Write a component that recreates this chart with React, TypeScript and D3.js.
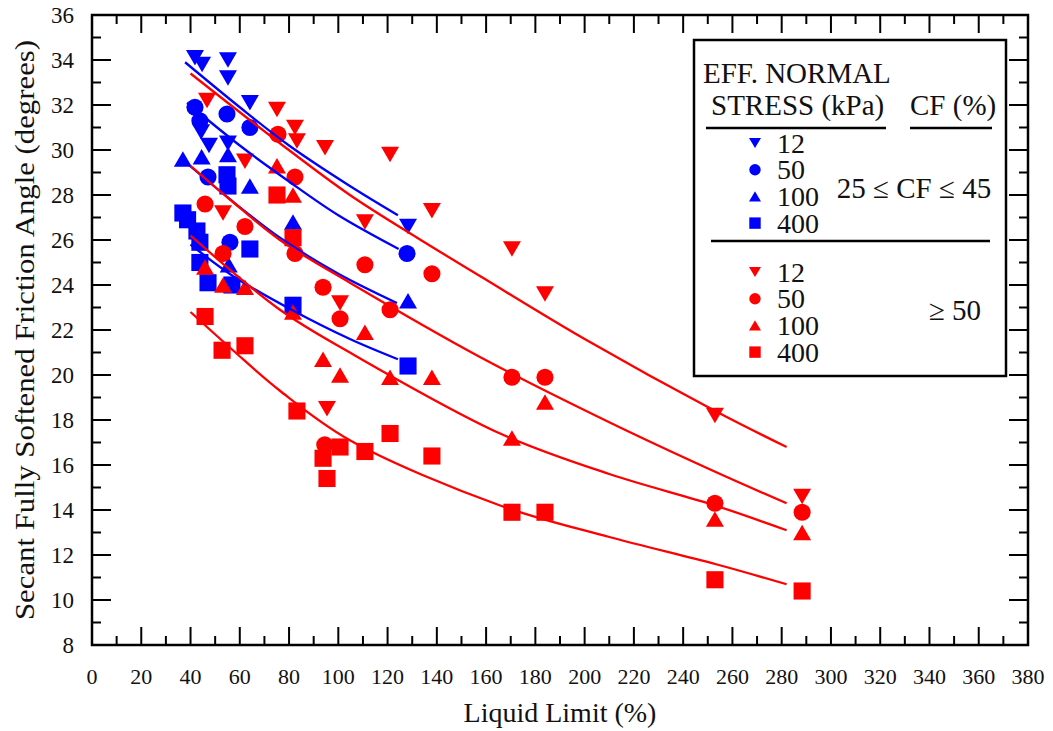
import React from "react";
import * as d3 from "d3";

// ---------- data (Liquid Limit %, friction angle deg) ----------
// CF 25-45 % (blue)
const blue12: [number, number][] = [[41.8,34.1],[44.7,33.8],[55.2,34.0],[55.2,33.2],[64.1,32.1],[44.3,30.8],[47.5,30.2],[55.2,30.3],[128.3,26.6]];
const blue50: [number, number][] = [[41.8,31.9],[43.8,31.3],[54.8,31.6],[64.1,31.0],[47.1,28.8],[56.0,25.9],[127.9,25.4]];
const blue100: [number, number][] = [[36.9,29.6],[44.5,29.7],[55.2,29.8],[64.1,28.4],[81.6,26.8],[55.5,24.9],[128.3,23.3]];
const blue400: [number, number][] = [[36.9,27.2],[38.8,26.9],[42.6,26.4],[43.8,25.9],[43.8,25.0],[47.1,24.1],[56.8,24.0],[54.8,28.9],[55.2,28.4],[64.1,25.6],[81.6,23.1],[128.3,20.4]];
// CF >= 50 % (red)
const red12: [number, number][] = [[46.7,32.2],[75.1,31.8],[82.4,31.0],[83.2,30.4],[94.6,30.1],[62.1,29.5],[53.2,27.2],[121.0,29.8],[138.0,27.3],[110.8,26.8],[100.7,23.2],[95.4,18.5],[170.5,25.6],[183.9,23.6],[252.9,18.2],[288.3,14.6]];
const red50: [number, number][] = [[75.5,30.7],[82.4,28.8],[45.9,27.6],[62.1,26.6],[53.2,25.4],[82.4,25.4],[93.8,23.9],[100.7,22.5],[110.8,24.9],[138.0,24.5],[121.0,22.9],[94.5,16.9],[170.5,19.9],[183.9,19.9],[252.9,14.3],[288.3,13.9]];
const red100: [number, number][] = [[75.1,29.3],[81.6,28.0],[45.9,24.8],[53.2,24.0],[62.1,23.9],[81.6,22.8],[110.8,21.9],[93.8,20.7],[100.7,20.0],[121.0,19.9],[138.0,19.9],[170.5,17.2],[183.9,18.8],[252.9,13.6],[288.3,13.0]];
const red400: [number, number][] = [[75.1,28.0],[81.6,26.1],[45.9,22.6],[52.8,21.1],[62.1,21.3],[83.2,18.4],[121.0,17.4],[100.7,16.8],[93.8,16.3],[95.4,15.4],[110.8,16.6],[138.0,16.4],[170.5,13.9],[183.9,13.9],[252.9,10.9],[288.3,10.4]];

// trend curves
const blueFit12: [number, number][] = [[37.8,33.9],[60,31.9],[80,30.2],[104.7,28.4],[124.2,27.1]];
const blueFit50: [number, number][] = [[38.6,32.1],[60,30.2],[80,28.6],[100,27.1],[124.5,25.6]];
const blueFit100: [number, number][] = [[38.6,29.4],[55,27.9],[76.3,26.1],[100,24.5],[123.8,23.2]];
const blueFit400: [number, number][] = [[40,25.8],[57.2,24.4],[81,22.9],[104.7,21.6],[124.2,20.7]];
const redFit12: [number, number][] = [[40,33.4],[76.3,30.3],[104.7,28.0],[132,26.1],[157.5,24.4],[200,21.6],[253,18.4],[282,16.8]];
const redFit50: [number, number][] = [[40,29.3],[56,27.8],[76.3,26.0],[104.7,24.1],[157.5,20.8],[210,17.9],[253,15.7],[282,14.3]];
const redFit100: [number, number][] = [[40,26.2],[76.3,22.9],[104.7,21.0],[165.7,17.4],[210,15.6],[253,14.2],[282,13.1]];
const redFit400: [number, number][] = [[40,22.8],[57.2,21.1],[76.3,19.3],[104.7,17.1],[165.7,14.2],[210,12.8],[253,11.6],[282,10.7]];

const stressLabels = ["12", "50", "100", "400"];
const shapes = ["down", "circle", "up", "square"];
const xTickValues = d3.range(0, 381, 10);
const yTickValues = d3.range(8, 37, 1);

const BLUE = "#0000ff";
const RED = "#ff0000";
const FONT = '"Liberation Serif", "Times New Roman", Tinos, serif';

const x = d3.scaleLinear().domain([0, 380]).range([92, 1028]);
const y = d3.scaleLinear().domain([8, 36]).range([645, 15]);

function Marker({ shape, cx, cy, s, color }: { shape: string; cx: number; cy: number; s: number; color: string }) {
  const h = s / 2;
  if (shape === "circle") return <circle cx={cx} cy={cy} r={h * 0.95} fill={color} />;
  if (shape === "square") return <rect x={cx - h * 0.95} y={cy - h * 0.95} width={s * 0.95} height={s * 0.95} fill={color} />;
  const th = s * 0.85;
  if (shape === "down")
    return <path d={`M${cx - h},${cy - th / 2}L${cx + h},${cy - th / 2}L${cx},${cy + th / 2}Z`} fill={color} />;
  return <path d={`M${cx - h},${cy + th / 2}L${cx + h},${cy + th / 2}L${cx},${cy - th / 2}Z`} fill={color} />;
}

const line = d3
  .line<[number, number]>()
  .x((d) => x(d[0]))
  .y((d) => y(d[1]))
  .curve(d3.curveCatmullRom.alpha(0.5));

const T_STYLE: React.CSSProperties = { fontFamily: FONT };

export default function App() {
  const blueSeries = [blue12, blue50, blue100, blue400];
  const redSeries = [red12, red50, red100, red400];
  const blueFits = [blueFit12, blueFit50, blueFit100, blueFit400];
  const redFits = [redFit12, redFit50, redFit100, redFit400];
  const [L, R] = x.range();
  const [B, T] = y.range();
  const rowGap = 26.7;

  return (
    <svg width={1053} height={731} style={{ position: "absolute", left: 0, top: 0, background: "#fff", fontFamily: FONT }}>
      <rect x={0} y={0} width={1053} height={731} fill="#fff" />
      {/* markers */}
      {blueSeries.map((s, i) =>
        s.map((d, j) => <Marker key={`b${i}-${j}`} shape={shapes[i]} cx={x(d[0])} cy={y(d[1])} s={18} color={BLUE} />)
      )}
      {redSeries.map((s, i) =>
        s.map((d, j) => <Marker key={`r${i}-${j}`} shape={shapes[i]} cx={x(d[0])} cy={y(d[1])} s={18} color={RED} />)
      )}
      {/* fitted curves */}
      {blueFits.map((f, i) => (
        <path key={`bf${i}`} d={line(f) || ""} fill="none" stroke={BLUE} strokeWidth={2.3} />
      ))}
      {redFits.map((f, i) => (
        <path key={`rf${i}`} d={line(f) || ""} fill="none" stroke={RED} strokeWidth={2.3} />
      ))}
      {/* ticks */}
      {xTickValues.map((v) => {
        const len = v % 20 === 0 ? 18 : 9;
        return (
          <g key={`xt${v}`} stroke="#000" strokeWidth={2}>
            <line x1={x(v)} x2={x(v)} y1={B} y2={B - len} />
            <line x1={x(v)} x2={x(v)} y1={T} y2={T + len} />
          </g>
        );
      })}
      {yTickValues.map((v) => {
        const len = v % 2 === 0 ? 19 : 9;
        return (
          <g key={`yt${v}`} stroke="#000" strokeWidth={2}>
            <line x1={L} x2={L + len} y1={y(v)} y2={y(v)} />
            <line x1={R} x2={R - len} y1={y(v)} y2={y(v)} />
          </g>
        );
      })}
      <rect x={L} y={T} width={R - L} height={B - T} fill="none" stroke="#000" strokeWidth={2.5} />
      {/* tick labels */}
      {xTickValues.filter((v) => v % 20 === 0).map((v) => (
        <text key={`xl${v}`} x={x(v)} y={684} fontSize={22} textAnchor="middle" fill="#111" style={T_STYLE}>
          {v}
        </text>
      ))}
      {yTickValues.filter((v) => v % 2 === 0).map((v) => (
        <text key={`yl${v}`} x={74} y={y(v)} dy="0.35em" fontSize={23} textAnchor="end" fill="#111" style={T_STYLE}>
          {v}
        </text>
      ))}
      {/* axis titles */}
      <text x={(L + R) / 2} y={722} fontSize={28} textAnchor="middle" fill="#111" style={T_STYLE}>
        Liquid Limit (%)
      </text>
      <text
        transform={`translate(34,${(T + B) / 2}) rotate(-90)`}
        fontSize={27}
        textAnchor="middle"
        fill="#111"
        textLength={580}
        lengthAdjust="spacingAndGlyphs"
        style={T_STYLE}
      >
        Secant Fully Softened Friction Angle (degrees)
      </text>
      {/* legend */}
      <g style={T_STYLE}>
        <rect x={694} y={40} width={312} height={336} fill="#fff" stroke="#000" strokeWidth={2.5} />
        <text x={703} y={83} fontSize={29} fill="#111" style={T_STYLE}>EFF. NORMAL</text>
        <text x={711} y={115} fontSize={29} fill="#111" style={T_STYLE}>STRESS (kPa)</text>
        <text x={910} y={115} fontSize={29} fill="#111" style={T_STYLE}>CF (%)</text>
        <line x1={706} x2={886} y1={128} y2={128} stroke="#000" strokeWidth={2.5} />
        <line x1={910} x2={992} y1={128} y2={128} stroke="#000" strokeWidth={2.5} />
        {stressLabels.map((lab, i) => (
          <Marker key={`lbm${i}`} shape={shapes[i]} cx={755} cy={143 + i * rowGap} s={12} color={BLUE} />
        ))}
        <text fontSize={28} fill="#111" style={T_STYLE}>
          {stressLabels.map((lab, i) => (
            <tspan key={`lbt${i}`} x={777} y={143 + i * rowGap + 9.5}>{lab}</tspan>
          ))}
        </text>
        <text x={914} y={188} dy="0.34em" fontSize={29} textAnchor="middle" fill="#111" style={T_STYLE}>25 ≤ CF ≤ 45</text>
        <line x1={711} x2={990} y1={241} y2={241} stroke="#000" strokeWidth={2.5} />
        {stressLabels.map((lab, i) => (
          <Marker key={`lrm${i}`} shape={shapes[i]} cx={755} cy={272 + i * rowGap} s={12} color={RED} />
        ))}
        <text fontSize={28} fill="#111" style={T_STYLE}>
          {stressLabels.map((lab, i) => (
            <tspan key={`lrt${i}`} x={777} y={272 + i * rowGap + 9.5}>{lab}</tspan>
          ))}
        </text>
        <text x={955} y={310} dy="0.34em" fontSize={29} textAnchor="middle" fill="#111" style={T_STYLE}>≥ 50</text>
      </g>
    </svg>
  );
}
